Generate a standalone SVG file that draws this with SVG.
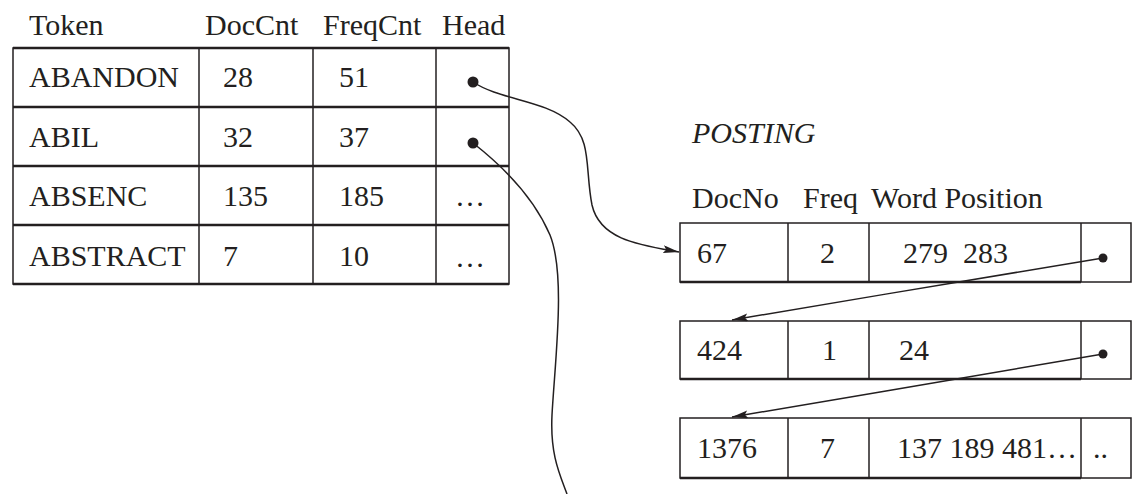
<svg xmlns="http://www.w3.org/2000/svg" width="1142" height="494" viewBox="0 0 1142 494">
<style>
text{font-family:"Liberation Serif","Times New Roman",serif;font-size:30px;fill:#231f20}
.it{font-style:italic}
.cell{fill:none;stroke:#231f20;stroke-width:1.5}
.hline{stroke:#231f20;stroke-width:2.5}
.vline{stroke:#231f20;stroke-width:1.5}
.dot{fill:#231f20}
.conn{fill:none;stroke:#231f20;stroke-width:1.5}
</style>
<defs>
<marker id="arr" viewBox="0 0 16 8" refX="16" refY="4" markerWidth="16" markerHeight="8" markerUnits="userSpaceOnUse" orient="auto">
<path d="M0,0 L16,4 L0,8 L3,4 Z" fill="#231f20"/>
</marker>
</defs>

<g id="token-header">
<text x="29" y="35">Token</text>
<text x="205" y="35">DocCnt</text>
<text x="323" y="35">FreqCnt</text>
<text x="442" y="35">Head</text>
</g>

<g id="token-table-frame">
<rect class="cell" x="13" y="48" width="496" height="236"/>
<line class="hline" x1="13" y1="48" x2="509" y2="48"/>
<line class="hline" x1="13" y1="107" x2="509" y2="107"/>
<line class="hline" x1="13" y1="166" x2="509" y2="166"/>
<line class="hline" x1="13" y1="225" x2="509" y2="225"/>
<line class="hline" x1="13" y1="284" x2="509" y2="284"/>
<line class="vline" x1="199" y1="48" x2="199" y2="284"/>
<line class="vline" x1="313" y1="48" x2="313" y2="284"/>
<line class="vline" x1="436" y1="48" x2="436" y2="284"/>
</g>

<g id="row-abandon">
<text x="29" y="87">ABANDON</text>
<text x="223" y="87">28</text>
<text x="339" y="87">51</text>
<circle class="dot" cx="473" cy="82" r="5.5"/>
</g>
<g id="row-abil">
<text x="29" y="147">ABIL</text>
<text x="223" y="147">32</text>
<text x="339" y="147">37</text>
<circle class="dot" cx="473" cy="143" r="5.5"/>
</g>
<g id="row-absenc">
<text x="29" y="206">ABSENC</text>
<text x="223" y="206">135</text>
<text x="339" y="206">185</text>
<text x="455" y="206">…</text>
</g>
<g id="row-abstract">
<text x="29" y="266">ABSTRACT</text>
<text x="223" y="266">7</text>
<text x="339" y="266">10</text>
<text x="455" y="267">…</text>
</g>

<g id="posting-label">
<text class="it" x="692" y="143">POSTING</text>
</g>
<g id="posting-header">
<text x="692" y="208">DocNo</text>
<text x="803" y="208">Freq</text>
<text x="871" y="208">Word Position</text>
</g>

<g id="posting-1">
<rect class="cell" x="680" y="223" width="451" height="59"/>
<line class="hline" x1="680" y1="282" x2="1081" y2="282"/>
<line class="vline" x1="788" y1="223" x2="788" y2="282"/>
<line class="vline" x1="869" y1="223" x2="869" y2="282"/>
<line class="vline" x1="1081" y1="223" x2="1081" y2="282"/>
<text x="697" y="263">67</text>
<text x="820" y="263">2</text>
<text x="903" y="263" xml:space="preserve">279  283</text>
<circle class="dot" cx="1103" cy="258" r="4.5"/>
</g>
<g id="posting-2">
<rect class="cell" x="680" y="321" width="451" height="58"/>
<line class="hline" x1="680" y1="379" x2="1081" y2="379"/>
<line class="vline" x1="788" y1="321" x2="788" y2="379"/>
<line class="vline" x1="869" y1="321" x2="869" y2="379"/>
<line class="vline" x1="1081" y1="321" x2="1081" y2="379"/>
<text x="697" y="360">424</text>
<text x="822" y="360">1</text>
<text x="899" y="360">24</text>
<circle class="dot" cx="1103" cy="354" r="4.5"/>
</g>
<g id="posting-3">
<rect class="cell" x="680" y="418" width="451" height="60"/>
<line class="hline" x1="680" y1="478" x2="1081" y2="478"/>
<line class="vline" x1="788" y1="418" x2="788" y2="478"/>
<line class="vline" x1="869" y1="418" x2="869" y2="478"/>
<line class="vline" x1="1081" y1="418" x2="1081" y2="478"/>
<text x="697" y="458">1376</text>
<text x="820" y="458">7</text>
<text x="897" y="458">137 189 481…</text>
<text x="1093" y="458">..</text>
</g>

<g id="connectors">
<path class="conn" marker-end="url(#arr)" d="M473,82 C500,100 545,100 570,122 C592,140 585,170 592,205 C600,240 640,245 679,252"/>
<path class="conn" d="M473,143 C505,168 535,200 550,235 C566,275 555,360 552,415 C550,455 560,475 567,494"/>
<path class="conn" marker-end="url(#arr)" d="M1103,258 C1000,275 850,300 732,320"/>
<path class="conn" marker-end="url(#arr)" d="M1103,354 C1000,372 850,397 732,417"/>
</g>
</svg>
